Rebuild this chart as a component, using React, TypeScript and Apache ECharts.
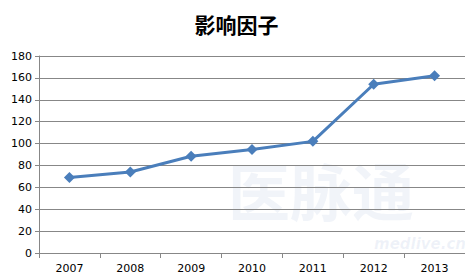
import React, { useEffect, useRef } from "react";
import * as echarts from "echarts";

const title = "影响因子";
const categories = ["2007", "2008", "2009", "2010", "2011", "2012", "2013"];
const values = [69, 74, 88.4, 94.5, 102, 154.2, 162];
const yMin = 0;
const yMax = 180;
const yInterval = 20;

export default function App() {
  const ref = useRef<HTMLDivElement>(null);
  useEffect(() => {
    if (!ref.current) return;
    const chart = echarts.init(ref.current, undefined, { renderer: "svg" });
    chart.setOption({
      animation: false,
      backgroundColor: "#ffffff",
      title: {
        text: title,
        left: "center",
        top: 8,
        textStyle: {
          fontFamily: "Noto Sans CJK SC",
          fontSize: 21,
          fontWeight: "bold",
          color: "#000000",
        },
      },
      graphic: [
        {
          type: "text",
          left: 228,
          top: 158,
          silent: true,
          z: -1,
          style: {
            text: "医脉通",
            fontFamily: "Noto Sans CJK SC",
            fontSize: 62,
            fontWeight: "bold",
            fill: "rgba(120,150,200,0.10)",
          },
        },
        {
          type: "text",
          left: 374,
          top: 236,
          silent: true,
          z: -1,
          style: {
            text: "medlive.cn",
            fontFamily: "DejaVu Sans",
            fontSize: 15,
            fontStyle: "italic",
            fontWeight: "bold",
            fill: "rgba(120,150,200,0.12)",
          },
        },
      ],
      grid: { left: 39, right: 8, top: 56, bottom: 27, containLabel: false },
      xAxis: {
        type: "category",
        data: categories,
        boundaryGap: true,
        axisLine: { lineStyle: { color: "#878787", width: 1 } },
        axisTick: { show: true, length: 5, inside: false, lineStyle: { color: "#878787" } },
        axisLabel: {
          color: "#000000",
          fontFamily: "DejaVu Sans",
          fontSize: 11,
          margin: 10,
        },
        splitLine: { show: false },
      },
      yAxis: {
        type: "value",
        min: yMin,
        max: yMax,
        interval: yInterval,
        axisLine: { show: true, lineStyle: { color: "#878787", width: 1 } },
        axisTick: { show: true, length: 4, lineStyle: { color: "#878787" } },
        axisLabel: {
          color: "#000000",
          fontFamily: "DejaVu Sans",
          fontSize: 11,
          margin: 7,
        },
        splitLine: { show: true, lineStyle: { color: "#878787", width: 1 } },
      },
      series: [
        {
          type: "line",
          data: values,
          symbol: "diamond",
          symbolSize: 11,
          lineStyle: { color: "#4a7ebb", width: 3 },
          itemStyle: { color: "#4a7ebb" },
        },
      ],
    });
    return () => chart.dispose();
  }, []);
  return <div ref={ref} style={{ width: 473, height: 280, margin: -8 }} />;
}
